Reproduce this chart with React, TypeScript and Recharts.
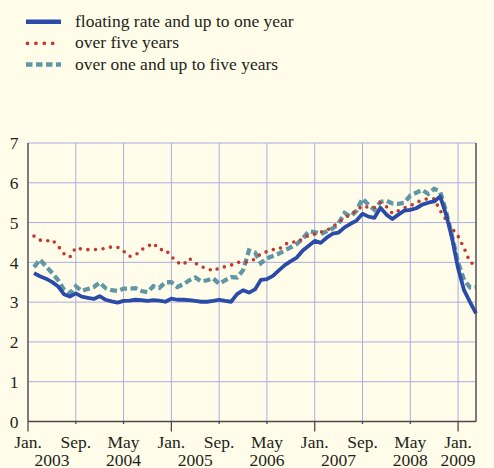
import React from 'react';
import { LineChart, Line, XAxis, YAxis, CartesianGrid, Legend } from 'recharts';

const FONT = '"Liberation Serif", "Times New Roman", serif';
const FONT_SIZE = 17.5;
const TEXT = '#231f20';
const AXIS = '#4a4a4a';
const GRID = '#a9addf';
const BG = '#fffde9';

const BLUE = '#2b4ba8';
const RED = '#c23a2e';
const TEAL = '#6097a7';

// Monthly observations, Jan. 2003 – Mar. 2009 (per cent)
const floatingRate = [
  3.73, 3.65, 3.59, 3.51, 3.40, 3.20, 3.14, 3.22, 3.14, 3.11, 3.08, 3.15,
  3.06, 3.02, 2.99, 3.03, 3.04, 3.06, 3.05, 3.03, 3.05, 3.04, 3.01, 3.09,
  3.06, 3.06, 3.05, 3.03, 3.01, 3.01, 3.03, 3.06, 3.03, 3.01, 3.20, 3.30,
  3.24, 3.32, 3.56, 3.58, 3.66, 3.80, 3.93, 4.03, 4.12, 4.30, 4.42, 4.54,
  4.49, 4.62, 4.72, 4.75, 4.88, 4.97, 5.05, 5.22, 5.15, 5.12, 5.37, 5.20,
  5.09, 5.20, 5.30, 5.32, 5.36, 5.45, 5.50, 5.53, 5.66, 5.20, 4.60, 3.85,
  3.30, 3.00, 2.72,
];

const overFiveYears = [
  4.66, 4.56, 4.53, 4.57, 4.42, 4.22, 4.13, 4.37, 4.33, 4.32, 4.32, 4.33,
  4.35, 4.39, 4.38, 4.28, 4.15, 4.18, 4.32, 4.40, 4.48, 4.32, 4.32, 4.15,
  4.00, 3.94, 4.10, 3.98, 3.89, 3.85, 3.78, 3.86, 3.89, 3.93, 4.00, 4.00,
  4.02, 4.08, 4.22, 4.27, 4.32, 4.33, 4.45, 4.52, 4.50, 4.60, 4.68, 4.71,
  4.76, 4.80, 4.90, 5.00, 5.12, 5.20, 5.30, 5.42, 5.38, 5.38, 5.50, 5.40,
  5.23, 5.30, 5.37, 5.42, 5.50, 5.57, 5.60, 5.60, 5.30, 5.07, 4.85, 4.66,
  4.36, 4.00, 3.93,
];

const oneToFiveYears = [
  3.88, 4.07, 3.90, 3.74, 3.56, 3.32, 3.22, 3.40, 3.28, 3.33, 3.38, 3.49,
  3.35, 3.30, 3.28, 3.34, 3.34, 3.35, 3.28, 3.25, 3.40, 3.36, 3.50, 3.50,
  3.38, 3.45, 3.55, 3.62, 3.52, 3.55, 3.60, 3.46, 3.55, 3.63, 3.62, 3.80,
  4.30, 4.25, 3.98, 4.10, 4.16, 4.22, 4.30, 4.38, 4.46, 4.60, 4.78, 4.76,
  4.71, 4.78, 4.85, 4.98, 5.24, 5.15, 5.30, 5.60, 5.45, 5.32, 5.52, 5.55,
  5.48, 5.47, 5.50, 5.68, 5.75, 5.82, 5.72, 5.85, 5.78, 5.28, 4.65, 4.00,
  3.56, 3.37, 3.38,
];

// x axis: months since Jan. 2003
const monthTicks = [0, 8, 16, 24, 32, 40, 48, 56, 64, 72];
const monthTickLabels = ['Jan.', 'Sep.', 'May', 'Jan.', 'Sep.', 'May', 'Jan.', 'Sep.', 'May', 'Jan.'];
const yearTicks = [4, 16, 28, 40, 52, 64, 72];
const yearTickLabels = ['2003', '2004', '2005', '2006', '2007', '2008', '2009'];
const yTicks = [0, 1, 2, 3, 4, 5, 6, 7];

const seriesNames = [
  'floating rate and up to one year',
  'over five years',
  'over one and up to five years',
];

const data = floatingRate.map((v, i) => ({
  m: i + 1,
  floating: v,
  over5: overFiveYears[i],
  oneTo5: oneToFiveYears[i],
}));

const textStyle = { fontFamily: FONT, fontSize: FONT_SIZE, fill: TEXT };

const MonthTick = (props: any) => {
  const { x, y, payload } = props;
  const idx = monthTicks.indexOf(payload.value);
  const label = monthTickLabels[idx];
  const isJan = label === 'Jan.';
  return (
    <g>
      <line x1={x} x2={x} y1={y} y2={y + (isJan ? 10 : 2.5)} stroke={AXIS} strokeWidth={1.3} />
      <text x={x} y={y + 26} textAnchor="middle" style={textStyle}>
        {label}
      </text>
    </g>
  );
};

const YearTick = (props: any) => {
  const { x, y, payload } = props;
  const idx = yearTicks.indexOf(payload.value);
  return (
    <text x={x} y={y + 24} textAnchor="middle" style={textStyle}>
      {yearTickLabels[idx]}
    </text>
  );
};

const LegendContent = () => {
  const rows = [
    { name: seriesNames[0], color: BLUE, width: 4.5, dash: undefined, cap: 'butt', x1: 26 },
    { name: seriesNames[1], color: RED, width: 3.8, dash: '0 8.4', cap: 'round', x1: 27.5 },
    { name: seriesNames[2], color: TEAL, width: 4.5, dash: '6.5 3.5', cap: 'butt', x1: 26 },
  ];
  const swatchY = [21.7, 43.3, 64.5];
  const textY = [26.5, 48, 69.5];
  return (
    <svg width={494} height={80} style={{ display: 'block' }}>
      {rows.map((r, i) => (
        <g key={r.name}>
          <line
            x1={r.x1}
            x2={61}
            y1={swatchY[i]}
            y2={swatchY[i]}
            stroke={r.color}
            strokeWidth={r.width}
            strokeDasharray={r.dash}
            strokeLinecap={r.cap as any}
          />
          <text x={75} y={textY[i]} style={textStyle}>
            {r.name}
          </text>
        </g>
      ))}
    </svg>
  );
};

export default function App() {
  return (
    <div style={{ position: 'absolute', left: 0, top: 0, width: 494, height: 468, background: BG }}>
      <LineChart
        width={494}
        height={468}
        data={data}
        margin={{ top: 143, right: 0, bottom: 0, left: 0 }}
      >
        <CartesianGrid stroke={GRID} strokeWidth={1} />
        <XAxis
          dataKey="m"
          type="number"
          domain={[0, 75]}
          ticks={monthTicks}
          interval={0}
          height={20}
          tickSize={0}
          tickMargin={0}
          tickLine={false}
          axisLine={{ stroke: AXIS, strokeWidth: 1.3 }}
          tick={<MonthTick />}
        />
        <XAxis
          xAxisId="year"
          dataKey="m"
          type="number"
          domain={[0, 75]}
          ticks={yearTicks}
          interval={0}
          height={26.5}
          tickSize={0}
          tickMargin={0}
          tickLine={false}
          axisLine={false}
          tick={<YearTick />}
        />
        <YAxis
          type="number"
          domain={[0, 7]}
          ticks={yTicks}
          interval={0}
          width={28}
          tickSize={0}
          tickMargin={9.5}
          tickLine={false}
          axisLine={{ stroke: AXIS, strokeWidth: 1.3 }}
          tick={textStyle}
        />
        <YAxis
          yAxisId="right"
          orientation="right"
          type="number"
          domain={[0, 7]}
          ticks={yTicks}
          interval={0}
          width={18}
          tickSize={0}
          tickMargin={7}
          tickLine={false}
          axisLine={{ stroke: AXIS, strokeWidth: 1.3 }}
          tick={textStyle}
        />
        <Legend
          layout="horizontal"
          align="center"
          verticalAlign="middle"
          wrapperStyle={{ top: 0, left: 0, width: 494, height: 80 }}
          content={<LegendContent />}
        />
        <Line
          type="linear"
          dataKey="oneTo5"
          name={seriesNames[2]}
          stroke={TEAL}
          strokeWidth={4.3}
          strokeDasharray="7 3.5"
          dot={false}
          activeDot={false}
          isAnimationActive={false}
        />
        <Line
          type="linear"
          dataKey="over5"
          name={seriesNames[1]}
          stroke={RED}
          strokeWidth={3.6}
          strokeDasharray="0 7.6"
          strokeLinecap="round"
          dot={false}
          activeDot={false}
          isAnimationActive={false}
        />
        <Line
          type="linear"
          dataKey="floating"
          name={seriesNames[0]}
          stroke={BLUE}
          strokeWidth={3.8}
          strokeLinejoin="round"
          dot={false}
          activeDot={false}
          isAnimationActive={false}
        />
      </LineChart>
    </div>
  );
}
